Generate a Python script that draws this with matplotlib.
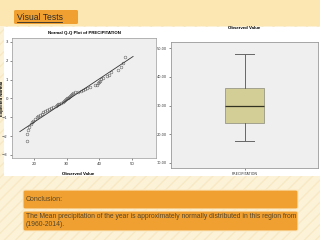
import matplotlib
matplotlib.use("Agg")
import matplotlib.pyplot as plt
from matplotlib.patches import Rectangle, FancyBboxPatch

# ---------------------------------------------------------------------------
# Data
# ---------------------------------------------------------------------------

# Normal Q-Q plot of annual precipitation (1960-2014), sorted
observed = [17.9, 18.0, 18.3, 18.6, 19.0, 19.3, 19.8, 20.2, 20.8, 21.3,
            21.9, 22.4, 22.9, 23.5, 24.0, 24.6, 25.2, 25.9, 26.6, 27.1,
            27.4, 27.8, 28.3, 28.9, 29.3, 29.6, 29.9, 30.2, 30.5, 30.8,
            31.0, 31.3, 31.6, 31.9, 32.6, 33.5, 34.3, 35.0, 35.6, 36.1,
            37.2, 38.6, 39.2, 39.5, 39.8, 40.1, 40.5, 41.0, 42.2, 42.9,
            43.6, 45.6, 46.5, 47.2, 47.9]
expected = [-2.28, -1.89, -1.67, -1.51, -1.38, -1.27, -1.18, -1.09, -1.01, -0.94,
            -0.87, -0.81, -0.74, -0.69, -0.63, -0.57, -0.52, -0.47, -0.42, -0.37,
            -0.32, -0.28, -0.23, -0.18, -0.14, -0.09, -0.05, 0.00, 0.05, 0.09,
            0.14, 0.18, 0.23, 0.28, 0.32, 0.37, 0.42, 0.47, 0.52, 0.57,
            0.63, 0.69, 0.74, 0.81, 0.87, 0.94, 1.01, 1.09, 1.18, 1.27,
            1.38, 1.51, 1.67, 1.89, 2.18]

# reference line: expected normal for mean / sd of the series
line_x = [15.7, 50.3]
line_y = [-1.76, 2.23]

qq_xticks = [20, 30, 40, 50]
qq_yticks = [-3, -2, -1, 0, 1, 2, 3]

# box plot summary
box_label = "PRECIPITATION"
box_whislo = 17.6
box_q1 = 23.8
box_med = 30.0
box_q3 = 36.2
box_whishi = 47.9
box_yticks = [10, 20, 30, 40, 50]

title_text = "Visual Tests"
conclusion_head = "Conclusion:"
conclusion_body = ("The Mean precipitation of the year is approximately normally distributed in this region from\n"
                   "(1960-2014).")

# ---------------------------------------------------------------------------
# Layout helpers (pixel coordinates, origin top-left)
# ---------------------------------------------------------------------------

W, H = 320, 240


def rect(x0, y0, x1, y1):
    return [x0 / W, 1 - y1 / H, (x1 - x0) / W, (y1 - y0) / H]


fig = plt.figure(figsize=(3.2, 2.4), dpi=100)
fig.patch.set_facecolor("#FBF2D8")

# striped slide background
bg = fig.add_axes([0, 0, 1, 1])
bg.set_xlim(0, W)
bg.set_ylim(H, 0)
bg.axis("off")
bg.add_patch(Rectangle((0, 0), W, H, facecolor="#FBF2D8", edgecolor="#F8E9C4",
                       hatch="///", linewidth=0))
bg.add_patch(Rectangle((0, 0), W, 26, facecolor="#FCE6B2", edgecolor="none"))
bg.add_patch(Rectangle((4, 27), 316, 149, facecolor="white", edgecolor="none"))

# "Visual Tests" tab
bg.add_patch(FancyBboxPatch((14, 10), 64, 14, boxstyle="round,pad=0,rounding_size=1.5",
                            facecolor="#F0A030", edgecolor="none"))
bg.text(17, 17.0, title_text, fontsize=6.2, color="#2B2B2B", va="center",
        family="Liberation Sans")
bg.plot([17, 62], [22.3, 22.3], color="#2B2B2B", lw=0.6, zorder=5)

# conclusion boxes
bg.add_patch(FancyBboxPatch((23, 190), 275, 19, boxstyle="round,pad=0,rounding_size=2",
                            facecolor="#F0A030", edgecolor="#FBE9C2", linewidth=0.8))
bg.add_patch(FancyBboxPatch((23, 211), 275, 20, boxstyle="round,pad=0,rounding_size=2",
                            facecolor="#F0A030", edgecolor="#FBE9C2", linewidth=0.8))
bg.text(26, 199.5, conclusion_head, fontsize=5.0, color="#55452A", va="center",
        family="Liberation Sans")
bg.text(26, 220.5, conclusion_body, fontsize=4.85, color="#55452A", va="center",
        family="Liberation Sans", linespacing=1.05)

# ---------------------------------------------------------------------------
# Normal Q-Q plot
# ---------------------------------------------------------------------------

ax = fig.add_axes(rect(12, 38, 156, 158))
ax.set_facecolor("#EFEFEF")
ax.plot(observed, expected, linestyle="none", marker="o", markersize=2.0,
        markerfacecolor="none", markeredgecolor="#555555", markeredgewidth=0.35)
ax.plot(line_x, line_y, color="#333333", lw=0.6)
ax.set_xlim(13.3, 57.3)
ax.set_ylim(-3.16, 3.21)
ax.set_xticks(qq_xticks)
ax.set_yticks(qq_yticks)
ax.tick_params(length=1.5, width=0.4, pad=1.5, labelsize=2.8, colors="#333333")
for s in ax.spines.values():
    s.set_color("#999999")
    s.set_linewidth(0.5)
ax.set_title("Normal Q-Q Plot of PRECIPITATION", fontsize=3.2, fontweight="bold",
             family="Liberation Sans", pad=3)
ax.set_xlabel("Observed Value", fontsize=3.2, fontweight="bold",
              family="Liberation Sans")
ax.xaxis.set_label_coords(66 / 144, -14 / 120)
ax.set_ylabel("Expected Normal", fontsize=3.2, fontweight="bold",
              family="Liberation Sans")
ax.yaxis.set_label_coords(-8 / 144, 0.5)

# ---------------------------------------------------------------------------
# Box plot
# ---------------------------------------------------------------------------

bx = fig.add_axes(rect(171, 42, 318, 168))
bx.set_facecolor("#EFEFEF")
stats = [{
    "label": box_label,
    "whislo": box_whislo,
    "q1": box_q1,
    "med": box_med,
    "q3": box_q3,
    "whishi": box_whishi,
    "fliers": [],
}]
bx.bxp(stats, positions=[0], widths=0.52, patch_artist=True, showfliers=False,
       boxprops=dict(facecolor="#D3CD96", edgecolor="#8A8A7A", linewidth=0.5),
       whiskerprops=dict(color="#666666", linewidth=0.7),
       capprops=dict(color="#666666", linewidth=0.7),
       medianprops=dict(color="#333322", linewidth=0.9),
       capwidths=0.26)
bx.set_xlim(-1.0, 1.0)
bx.set_ylim(8.26, 52.1)
bx.set_yticks(box_yticks)
bx.set_yticklabels([f"{v:.2f}" for v in box_yticks])
bx.tick_params(length=1.5, width=0.4, pad=1.5, labelsize=2.5, colors="#333333")
for s in bx.spines.values():
    s.set_color("#999999")
    s.set_linewidth(0.6)
bx.set_title("Observed Value", fontsize=3.2, fontweight="bold",
             family="Liberation Sans", pad=9.5)

fig.savefig("out.png", dpi=100, facecolor=fig.get_facecolor())
